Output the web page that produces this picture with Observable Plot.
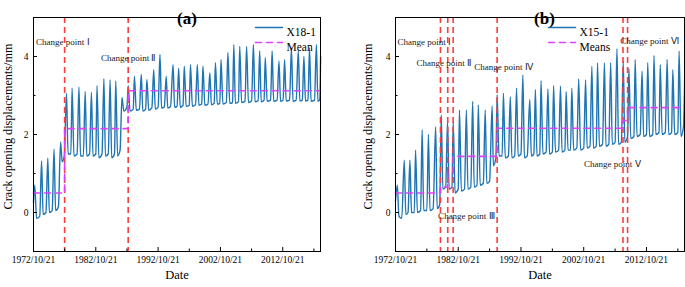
<!DOCTYPE html>
<html><head><meta charset="utf-8">
<script src="https://cdn.jsdelivr.net/npm/d3@7"></script>
<script src="https://cdn.jsdelivr.net/npm/@observablehq/plot@0.6"></script>
<style>
body{margin:0;background:#fff}
#wrap{display:flex;width:685px;height:287px;overflow:hidden}
#wrap svg, #wrap svg text{font-family:"Liberation Serif","Times New Roman",serif}
</style>
</head><body><div id="wrap"></div>
<script>
// ---- Panel (a): X18-1 (decimal years, mm) ----
const aT = [1972.8,1973.0,1973.3,1973.8,1974.1,1974.35,1974.8,1975.1,1975.35,1975.8,1976.1,1976.35,1976.8,1977.15,1977.4,1977.75,
1978.1,1978.35,1978.8,1979.0,1979.3,1979.8,1980.1,1980.35,1980.8,1981.1,1981.35,1981.8,1982.1,1982.35,1982.8,1983.0,1983.3,1983.8,
1984.1,1984.35,1984.8,1985.1,1985.35,1985.8,1986.0,1986.3,1986.7,1987.0,1987.3,1987.8,1988.0,1988.3,1988.8,
1989.0,1989.3,1989.8,1990.1,1990.35,1990.8,1991.0,1991.3,1991.8,1992.1,1992.35,1992.8,1993.1,1993.35,1993.8,1994.1,1994.35,1994.8,
1995.2,1995.45,1995.85,1996.1,1996.35,1996.8,1997.0,1997.3,1997.8,1998.0,1998.3,1998.8,1999.1,1999.35,1999.8,2000.0,2000.3,2000.8,
2001.1,2001.35,2001.8,2002.0,2002.3,2002.7,2002.9,2003.2,2003.75,2004.0,2004.3,2004.75,2004.95,2005.2,2005.7,2005.9,2006.2,2006.75,
2007.0,2007.3,2007.8,2008.1,2008.35,2008.85,2009.1,2009.35,2009.8,2010.0,2010.3,2010.85,2011.1,2011.35,2011.9,2012.2,2012.45,2012.85,
2013.1,2013.35,2013.9,2014.2,2014.45,2014.95,2015.3,2015.55,2015.95,2016.2,2016.45,2016.85,2017.1,2017.35,2017.9,2018.2,2018.45,2018.75,2018.88];
const aV = [0.25,0.7,-0.15,-0.1,1.32,-0.05,0.0,1.39,0.0,0.05,1.62,0.05,0.15,1.81,1.3,1.45,
3.06,1.5,1.5,3.19,1.45,1.5,3.22,1.45,1.45,3.1,1.45,1.5,3.08,1.45,1.5,3.25,1.4,1.5,
3.43,1.45,1.5,3.4,1.4,1.5,3.37,1.45,1.6,2.95,2.6,2.7,3.25,2.6,2.65,
3.49,2.62,2.65,3.54,2.6,2.65,3.41,2.62,2.68,3.66,2.65,2.7,4.05,2.68,2.7,3.49,2.68,2.72,
3.79,2.7,2.72,3.7,2.7,2.75,3.75,2.72,2.75,3.79,2.72,2.76,3.79,2.75,2.78,3.75,2.75,2.78,
3.58,2.76,2.8,3.84,2.78,2.8,3.92,2.78,2.82,4.1,2.8,2.82,4.31,2.8,2.84,4.26,2.82,2.85,
4.26,2.82,2.86,4.31,2.84,2.86,4.14,2.84,2.88,3.97,2.85,2.88,4.14,2.85,2.88,3.88,2.85,2.88,
3.92,2.86,2.88,4.22,2.85,2.88,4.14,2.86,2.88,4.0,2.86,2.88,4.22,2.85,2.88,4.31,2.85,2.9,4.0];
const aChange = [1977.8, 1988.0];
const aMeanT = [1972.8, 1977.8, 1988.0, 2018.9];
const aMeanV = [0.5, 2.15, 3.12, 3.12];
const aNotes = ["Change point Ⅰ", "Change point Ⅱ"];
const aNoteT = [1977.5, 1988.0];
const aNoteV = [4.36, 3.97];

// ---- Panel (b): X15-1 ----
const bT = [1972.8,1973.1,1973.35,1973.8,1974.2,1974.45,1974.8,1975.1,1975.35,1975.8,1976.0,1976.3,1976.8,1977.05,1977.3,1977.8,
1978.05,1978.3,1978.8,1979.2,1979.45,1979.85,1980.1,1980.35,1980.8,1981.1,1981.35,1981.8,1982.0,1982.3,1982.8,1983.0,1983.3,1983.8,
1984.1,1984.35,1984.8,1985.1,1985.35,1985.8,1986.0,1986.3,1986.8,1987.1,1987.35,1987.8,1988.2,1988.4,1988.8,
1989.0,1989.3,1989.8,1990.0,1990.3,1990.8,1991.1,1991.35,1991.8,1992.1,1992.35,1992.8,1993.1,1993.35,1993.8,1994.2,1994.45,1994.85,
1995.1,1995.35,1995.8,1996.0,1996.3,1996.8,1997.1,1997.35,1997.8,1998.0,1998.3,1998.8,1999.1,1999.35,1999.8,2000.0,2000.3,2000.7,
2000.9,2001.2,2001.7,2002.0,2002.3,2002.8,2003.1,2003.35,2003.8,2004.1,2004.35,2004.8,2005.0,2005.3,2005.8,2006.1,2006.35,2006.8,
2007.1,2007.35,2007.8,2008.1,2008.35,2008.8,2009.1,2009.35,2009.8,2010.0,2010.3,2010.8,2011.0,2011.3,2011.8,2012.1,2012.35,2012.8,
2013.0,2013.3,2013.8,2014.0,2014.3,2014.8,2015.0,2015.3,2015.8,2016.1,2016.35,2016.8,2017.0,2017.3,2017.8,2018.0,2018.3,2018.7,2018.9];
const bV = [0.3,0.7,-0.1,-0.15,1.34,-0.05,0.0,1.34,0.0,0.0,1.6,0.0,0.05,2.12,0.05,0.05,
2.0,0.05,0.1,2.2,0.1,0.2,2.5,0.6,0.65,2.35,0.6,0.65,2.33,0.5,0.6,2.63,0.55,0.6,
2.63,0.6,0.65,2.85,0.65,0.7,2.76,0.7,0.75,2.63,0.75,0.8,2.73,1.2,1.4,
3.02,1.45,1.45,3.06,1.4,1.45,2.97,1.4,1.45,3.19,1.45,1.5,3.53,1.4,1.45,2.9,1.45,1.5,
3.15,1.45,1.5,3.38,1.5,1.55,3.17,1.5,1.55,3.25,1.55,1.6,3.24,1.55,1.6,3.1,1.6,1.6,
3.19,1.6,1.65,3.42,1.6,1.65,3.4,1.65,1.7,3.75,1.65,1.7,3.84,1.7,1.75,3.84,1.7,1.75,
3.84,1.75,1.8,4.2,1.75,1.8,3.88,1.8,1.95,3.7,1.9,1.95,3.92,1.95,2.0,3.62,1.95,2.0,
3.84,1.95,2.0,4.03,2.0,2.05,3.79,2.0,2.05,3.92,2.0,2.05,3.66,2.0,2.05,4.14,1.95,2.2,3.5];
const bChange = [1979.97, 1981.13, 1981.99, 1989.0, 2009.06, 2009.79];
const bMeanT = [1972.8, 1979.97, 1981.13, 1981.99, 1989.0, 2009.06, 2009.79, 2018.9];
const bMeanV = [0.5, 0.65, 1.0, 1.44, 2.16, 2.36, 2.69, 2.69];
const bNotes = ["Change point Ⅰ", "Change point Ⅱ", "Change point Ⅲ", "Change point Ⅳ", "Change point Ⅴ", "Change point Ⅵ"];
const bNoteT = [1977.4, 1980.5, 1984.1, 1990.0, 2007.35, 2013.3];
const bNoteV = [4.36, 3.84, -0.08, 3.72, 1.23, 4.4];

// ---- axes ----
const majorYears = [1972, 1982, 1992, 2002, 2012];
const minorYears = [1977, 1987, 1997, 2007, 2017];
const yMajor = [0, 2, 4];
const yMinor = [1, 3];
const yLabel = "Crack opening displacements/mm";
const xLabel = "Date";

function toDate(y) {
  const yr = Math.floor(y), s = Date.UTC(yr, 0, 1), e = Date.UTC(yr + 1, 0, 1);
  return new Date(s + (y - yr) * (e - s));
}
const tickDate = y => new Date(Date.UTC(y, 9, 21));
const fmt = d => `${d.getUTCFullYear()}/${d.getUTCMonth() + 1}/${d.getUTCDate()}`;
const hline = {draw(ctx, l) { ctx.moveTo(0, 0); ctx.lineTo(0, -l); }};
const FONT = "'Liberation Serif', 'Times New Roman', serif";

function panel(cfg) {
  const series = cfg.T.map((t, i) => ({t: toDate(t), v: cfg.V[i]}));
  const means = cfg.MT.map((t, i) => ({t: toDate(t), v: cfg.MV[i]}));
  const notes = cfg.N.map((n, i) => ({n, t: toDate(cfg.NT[i]), v: cfg.NV[i]}));
  return Plot.plot({
    width: cfg.width, height: 287,
    marginLeft: cfg.ml, marginRight: cfg.mr, marginTop: 17, marginBottom: 36,
    x: {type: "utc", domain: [new Date(Date.UTC(1972, 9, 21)), new Date(Date.UTC(2018, 10, 12))]},
    y: {domain: [-1, 5]},
    style: `font-family: ${FONT}; font-size: 9.5px; color: #000; background: #fff; overflow: visible;`,
    marks: [
      Plot.line(series, {x: "t", y: "v", stroke: "#1f74b4", strokeWidth: 1.4, curve: "monotone-x"}),
      Plot.ruleX(cfg.C, {x: d => toDate(d), stroke: "#ff3b3b", strokeWidth: 1.6, strokeDasharray: "6,4"}),
      Plot.line(means, {x: "t", y: "v", curve: "step-after", stroke: "#e040fb", strokeWidth: 1.6, strokeDasharray: "6,5"}),
      Plot.axisX({ticks: majorYears.map(tickDate), tickSize: -4, tickPadding: 9, tickFormat: fmt, label: null, fontSize: 9.5}),
      Plot.axisX({ticks: minorYears.map(tickDate), tickSize: -2.5, fill: "none", label: null}),
      Plot.axisY({ticks: yMajor, tickSize: -4, tickPadding: 9, tickFormat: d => String(d), label: null, fontSize: 9.5}),
      Plot.axisY({ticks: yMinor, tickSize: -2.5, fill: "none", label: null}),
      Plot.frame({stroke: "#000"}),
      Plot.text(notes, {x: "t", y: "v", text: "n", fontSize: 9, fill: "#222", fontFamily: FONT}),
      Plot.vector([0], {frameAnchor: "top-right", dx: cfg.lgx, dy: 10, length: 27, rotate: 90, anchor: "start", shape: hline, stroke: "#1f74b4", strokeWidth: 1.5}),
      Plot.vector([0], {frameAnchor: "top-right", dx: cfg.lgx, dy: 25, length: 27, rotate: 90, anchor: "start", shape: hline, stroke: "#e040fb", strokeWidth: 1.6, strokeDasharray: "6,5"}),
      Plot.text([cfg.s1], {frameAnchor: "top-right", dx: cfg.lgx + 31, dy: 10, textAnchor: "start", fontSize: 11.5, fontFamily: FONT}),
      Plot.text([cfg.s2], {frameAnchor: "top-right", dx: cfg.lgx + 31, dy: 25, textAnchor: "start", fontSize: 11.5, fontFamily: FONT}),
      Plot.text([cfg.title], {frameAnchor: "top", dx: cfg.tdx, dy: -6, fontSize: 17, fontWeight: "bold", fontFamily: FONT}),
      Plot.text([xLabel], {frameAnchor: "bottom", dy: 27, fontSize: 12.5, fontFamily: FONT}),
      Plot.text([yLabel], {frameAnchor: "left", dx: cfg.ydx, dy: -8, rotate: -90, textAnchor: "middle", fontSize: 12.2, fontFamily: FONT})
    ]
  });
}

const wrap = document.getElementById("wrap");
wrap.append(panel({width: 342, ml: 33, mr: 22, T: aT, V: aV, C: aChange, MT: aMeanT, MV: aMeanV,
  N: aNotes, NT: aNoteT, NV: aNoteV, lgx: -65, s1: "X18-1", s2: "Mean", title: "(a)", tdx: 10, ydx: -25}));
wrap.append(panel({width: 343, ml: 53, mr: 1, T: bT, V: bV, C: bChange, MT: bMeanT, MV: bMeanV,
  N: bNotes, NT: bNoteT, NV: bNoteV, lgx: -136, s1: "X15-1", s2: "Means", title: "(b)", tdx: 4.5, ydx: -27}));
</script>
</body></html>
